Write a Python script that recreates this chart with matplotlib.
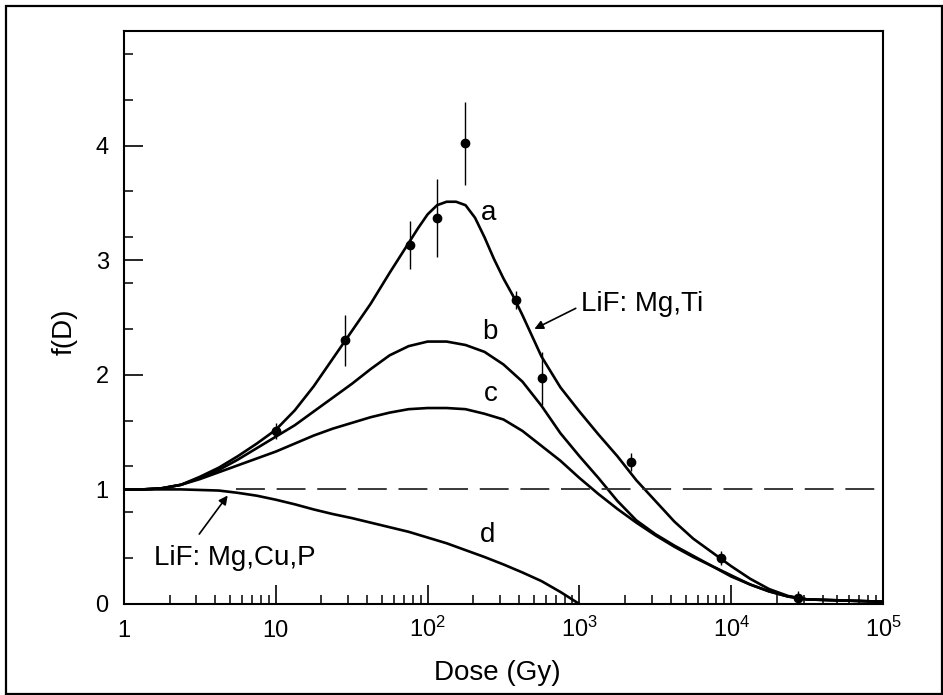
import numpy as np
import matplotlib
matplotlib.use('Agg')
import matplotlib.pyplot as plt
from matplotlib.patches import Rectangle
from matplotlib.ticker import FixedLocator, LogLocator, NullFormatter

plt.rcParams['font.family'] = ['Liberation Sans', 'DejaVu Sans']
plt.rcParams['mathtext.fontset'] = 'custom'
plt.rcParams['mathtext.rm'] = 'Liberation Sans'
plt.rcParams['mathtext.it'] = 'Liberation Sans:italic'
plt.rcParams['mathtext.bf'] = 'Liberation Sans:bold'

# ---- data ----
dose = [1, 1.334, 1.778, 2.371, 3.162, 4.217, 5.623, 7.499, 10, 13.34, 17.78,
        23.71, 31.62, 42.17, 56.23, 74.99, 100, 133.4, 177.8, 237.1, 316.2,
        421.7, 562.3, 749.9, 1000, 1334, 1778, 2371, 3162, 4217, 5623, 7499,
        10000, 13340, 17780, 23710, 31620, 56230, 100000]

# curve a is read on a finer set of doses around its peak
dose_a = [1, 1.334, 1.778, 2.371, 3.162, 4.217, 5.623, 7.499, 10, 13.34, 17.78,
          23.71, 31.62, 42.17, 56.23, 64.94, 74.99, 86.6, 100, 115.5, 133.4,
          154.0, 177.8, 205.4, 237.1, 273.8, 316.2, 365.2, 421.7, 562.3, 749.9,
          1000, 1334, 1778, 2371, 3162, 4217, 5623, 7499, 10000, 13340, 17780,
          23710, 31620, 56230, 100000]
curve_a = [1.00, 1.00, 1.01, 1.04, 1.11, 1.19, 1.29, 1.40, 1.52, 1.69, 1.90,
           2.14, 2.38, 2.62, 2.89, 3.02, 3.15, 3.28, 3.40, 3.48, 3.51,
           3.51, 3.48, 3.37, 3.20, 3.01, 2.84, 2.69, 2.52, 2.16, 1.89,
           1.68, 1.48, 1.29, 1.08, 0.90, 0.72, 0.57, 0.45, 0.33, 0.22, 0.13,
           0.07, 0.04, 0.03, 0.02]
curve_b = [1.00, 1.00, 1.01, 1.04, 1.10, 1.17, 1.26, 1.36, 1.46, 1.56, 1.68,
           1.80, 1.92, 2.05, 2.17, 2.25, 2.29, 2.29, 2.26, 2.20, 2.09, 1.94,
           1.73, 1.49, 1.29, 1.10, 0.90, 0.73, 0.61, 0.51, 0.42, 0.33, 0.24,
           0.17, 0.11, 0.065, 0.04, 0.03, 0.02]
curve_c = [1.00, 1.00, 1.01, 1.04, 1.09, 1.15, 1.21, 1.27, 1.33, 1.40, 1.47,
           1.53, 1.58, 1.63, 1.67, 1.70, 1.71, 1.71, 1.70, 1.66, 1.61, 1.51,
           1.38, 1.25, 1.10, 0.96, 0.83, 0.71, 0.60, 0.50, 0.41, 0.33, 0.25,
           0.17, 0.11, 0.065, 0.04, 0.03, 0.02]
curve_d = [1.00, 1.00, 1.00, 1.00, 0.995, 0.99, 0.97, 0.945, 0.91, 0.87, 0.825,
           0.785, 0.75, 0.71, 0.67, 0.63, 0.58, 0.53, 0.47, 0.41, 0.345, 0.275,
           0.20, 0.105, 0.0]

ref_dose = [5.5, 100000]
ref_level = [1.0, 1.0]

meas_dose = [10, 28.5, 76.7, 115, 177, 380, 570, 2190, 8600, 27700]
meas_f = [1.51, 2.30, 3.13, 3.37, 4.02, 2.65, 1.97, 1.24, 0.40, 0.05]
meas_err = [0.07, 0.22, 0.21, 0.34, 0.36, 0.08, 0.23, 0.08, 0.06, 0.06]

x_ticks = [1, 10, 100, 1000, 10000, 100000]
x_tick_labels = ['1', '10', '$10^2$', '$10^3$', '$10^4$', '$10^5$']
y_ticks = [0, 1, 2, 3, 4]
y_tick_labels = ['0', '1', '2', '3', '4']
y_minor = [0.4, 0.8, 1.2, 1.6, 2.4, 2.8, 3.2, 3.6, 4.4, 4.8]

curve_labels = ['a', 'b', 'c', 'd']
curve_label_pos = [(253, 3.41), (259, 2.37), (259, 1.83), (249, 0.60)]

# ---- figure ----
W, H = 943, 695
fig = plt.figure(figsize=(W / 100, H / 100), dpi=100, facecolor='white')
ax = fig.add_axes([124 / W, 1 - 604 / H, 759 / W, 573 / H])

lw = 1.9
kw = dict(color='black', lw=lw, solid_capstyle='round', solid_joinstyle='round')
ax.plot(dose_a, curve_a, **kw)
ax.plot(dose, curve_b, **kw)
ax.plot(dose, curve_c, **kw)
ax.plot(dose[:len(curve_d)], curve_d, **kw)
ax.plot(ref_dose, ref_level, color='#2a2a2a', lw=1.3, linestyle=(0, (16, 6.5)))

ax.errorbar(meas_dose, meas_f, yerr=meas_err, fmt='o', color='black',
            ms=6, elinewidth=1.0, capsize=0, zorder=5)

ax.set_xscale('log')
ax.set_xlim(1, 1e5)
ax.set_ylim(0, 5)

ax.xaxis.set_major_locator(FixedLocator(x_ticks))
ax.set_xticklabels(x_tick_labels)
ax.xaxis.set_minor_locator(LogLocator(base=10, subs=range(2, 10), numticks=50))
ax.xaxis.set_minor_formatter(NullFormatter())
ax.set_yticks(y_ticks)
ax.set_yticklabels(y_tick_labels)
ax.set_yticks(y_minor, minor=True)

ax.tick_params(which='major', direction='in', length=14, width=1.2,
               top=False, right=False, labelsize=17, colors='black')
ax.tick_params(which='minor', direction='in', length=6.5, width=1.1,
               top=False, right=False)
ax.tick_params(axis='y', which='major', pad=11)
ax.tick_params(axis='x', which='major', pad=23.5)
for t in ax.get_xticklabels():
    t.set_va('baseline')

for s in ax.spines.values():
    s.set_linewidth(1.5)
    s.set_color('black')

ax.set_xlabel('Dose (Gy)', fontsize=20)
ax.xaxis.set_label_coords(0.492, -0.097)
ax.set_ylabel('f(D)', fontsize=20)
ax.yaxis.set_label_coords(-0.061, 0.476)

for lab, (lx, ly) in zip(curve_labels, curve_label_pos):
    ax.text(lx, ly, lab, fontsize=20, ha='center', va='center')

ax.text(1032, 2.56, 'LiF: Mg,Ti', fontsize=20, ha='left', va='baseline')
ax.annotate('', xy=(505, 2.40), xytext=(946, 2.58),
            arrowprops=dict(arrowstyle='-|>', lw=1.2, color='black',
                            mutation_scale=13, shrinkA=0, shrinkB=0))
ax.text(1.58, 0.34, 'LiF: Mg,Cu,P', fontsize=20, ha='left', va='baseline')
ax.annotate('', xy=(4.82, 0.947), xytext=(3.13, 0.61),
            arrowprops=dict(arrowstyle='-|>', lw=1.2, color='black',
                            mutation_scale=13, shrinkA=0, shrinkB=0))

# outer frame around the whole picture
fig.patches.append(Rectangle((6 / W, 1.5 / H), 935.5 / W, 687.5 / H,
                             transform=fig.transFigure, fill=False,
                             edgecolor='black', lw=1.6))

fig.savefig('out.png', dpi=100, facecolor='white')
